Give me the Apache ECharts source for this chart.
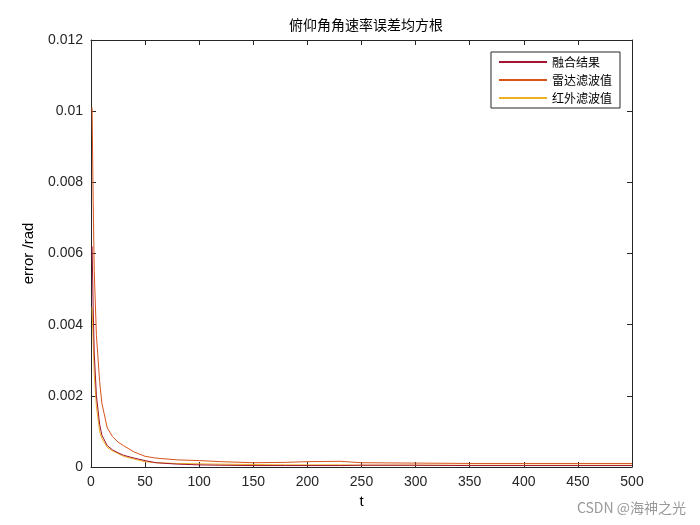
<!DOCTYPE html><html><head><meta charset="utf-8"><script src="https://cdn.jsdelivr.net/npm/echarts@6/dist/echarts.min.js"></script></head><body style="margin:0"><div id="c" style="width:700px;height:525px"></div><script>
const tVals=[1,2,3,5,8,10,15,20,25,30,40,50,60,80,100,120,150,180,200,230,250,300,350,400,450,500];
const fusion=[0.0062,0.0045,0.0032,0.002,0.0012,0.0009,0.0006,0.00048,0.0004,0.00033,0.00025,0.00018,0.00012,0.00008,0.00006,0.00005,0.00004,0.00004,0.00004,0.00004,0.00005,0.00005,0.00004,0.00004,0.00004,0.00004];
const radar=[0.0101,0.0075,0.0055,0.0037,0.0024,0.0018,0.0011,0.00085,0.0007,0.0006,0.00042,0.0003,0.00025,0.0002,0.00018,0.00015,0.00012,0.00013,0.00015,0.00016,0.00012,0.00011,0.0001,0.0001,0.0001,0.0001];
const infrared=[0.0045,0.0035,0.0026,0.0017,0.001,0.0008,0.00055,0.00045,0.00038,0.0003,0.00022,0.00015,0.00012,0.0001,0.00009,0.00008,0.00007,0.00006,0.00006,0.00006,0.00005,0.00005,0.00005,0.00005,0.00005,0.00005];
const names=['融合结果','雷达滤波值','红外滤波值'];
const colors=['#A2142F','#D95319','#EDB120'];
const ch=echarts.init(document.getElementById('c'));
const ax={axisLine:{show:true,onZero:false,lineStyle:{color:'#262626'}},axisTick:{inside:true,length:5,lineStyle:{color:'#262626'}},splitLine:{show:false}};
const mk=(n,v,i)=>({name:n,type:'line',showSymbol:false,data:tVals.map((t,k)=>[t,v[k]]),lineStyle:{width:1,color:colors[i]},itemStyle:{color:colors[i]},z:3-i});
ch.setOption({animation:false,backgroundColor:'#fff',
title:{text:'俯仰角角速率误差均方根',left:361,top:13,textAlign:'center',textStyle:{fontFamily:'Noto Sans CJK SC',fontWeight:'normal',fontSize:14,color:'#000'}},
grid:{left:91,right:68,top:40,bottom:58},
legend:{right:80,top:52,orient:'vertical',backgroundColor:'#fff',borderColor:'#262626',borderWidth:1,padding:[4,8],itemGap:6,itemWidth:48,itemHeight:2,icon:'rect',textStyle:{fontFamily:'Noto Sans CJK SC',fontSize:12,color:'#000'},data:names},
xAxis:[Object.assign({type:'value',min:0,max:500,interval:50,name:'t',nameLocation:'middle',nameGap:22,nameTextStyle:{fontSize:15,color:'#000'},axisLabel:{fontSize:14,color:'#262626'}},ax),Object.assign({type:'value',position:'top',min:0,max:500,interval:50,axisLabel:{show:false}},ax)],
yAxis:[Object.assign({type:'value',min:0,max:0.012,interval:0.002,name:'error /rad',nameLocation:'middle',nameGap:55,nameTextStyle:{fontSize:15,color:'#000'},axisLabel:{fontSize:14,color:'#262626',formatter:v=>v===0?'0':String(+v.toFixed(3))}},ax),Object.assign({type:'value',position:'right',min:0,max:0.012,interval:0.002,axisLabel:{show:false}},ax)],
series:[mk(names[0],fusion,0),mk(names[1],radar,1),mk(names[2],infrared,2)],
graphic:[{type:'text',right:14,bottom:10,style:{text:'CSDN @海神之光',fill:'#999',font:'14px "Noto Sans CJK SC"'}}]
});
</script></body></html>
